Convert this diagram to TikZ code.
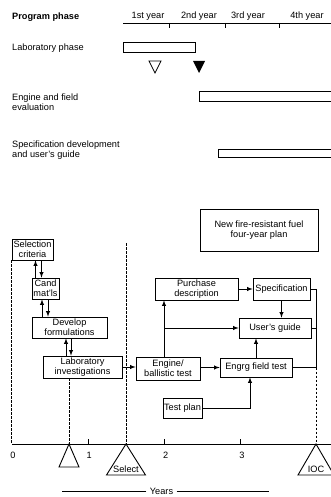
\documentclass[tikz,border=0pt]{standalone}
\usepackage{fontspec}
\setmainfont{Liberation Sans}
\usetikzlibrary{arrows,calc}

\tikzset{
    box/.style={draw, line width=0.7pt, align=center, inner sep=1pt},
    flow/.style={-latex, line width=0.9pt},
    guide/.style={line width=0.7pt, dash pattern=on 2.5pt off 1.5pt},
    bar/.style={draw, line width=0.7pt},
    lbl/.style={align=left, anchor=west, inner sep=0pt}
}

\begin{document}
\begin{tikzpicture}[x=1pt, y=-1pt, font=\fontsize{9.2}{10}\selectfont]
    \useasboundingbox (0,0) rectangle (331,497);

    % phase chart on top
    \node[lbl, font=\fontsize{9.2}{10}\selectfont\bfseries] (phase) at (12,17) {Program phase};
    \foreach \x/\yr in {148/1st, 199/2nd, 248/3rd, 307/4th}
        \node (yr\yr) at (\x,16) {\yr\ year};
    \draw[line width=0.7pt] (123,23) -- (331,23);
    \foreach \x in {169,225,279}
        \draw[line width=0.7pt] (\x,23) -- (\x,28);

    \node[lbl] (labphase) at (12,48) {Laboratory phase};
    \draw[bar] (123,42) rectangle (195,52);
    \draw[line width=0.7pt] (149,61) -- (161,61) -- (155,73) -- cycle;
    \fill (193,61) -- (205,61) -- (199,73) -- cycle;

    \node[lbl] (engphase) at (12,102) {Engine and field\\evaluation};
    \draw[bar] (335,91) -- (199,91) -- (199,101) -- (335,101);

    \node[lbl] (specphase) at (12,150) {Specification development\\and user's guide};
    \draw[bar] (335,149) -- (218,149) -- (218,157) -- (335,157);

    % work flow
    \node[box, minimum width=118pt, minimum height=42pt] (plan) at (259,230.5) {New fire-resistant fuel\\four-year plan};
    \node[box, minimum width=41pt, minimum height=21pt] (sel) at (32.5,249.5) {Selection\\criteria};
    \node[box, minimum width=27pt, minimum height=21pt] (cand) at (45.5,288.5) {Cand\\mat'ls};
    \node[box, minimum width=75pt, minimum height=21pt] (dev) at (69.5,327.5) {Develop\\formulations};
    \node[box, minimum width=79pt, minimum height=22pt] (lab) at (82.5,367) {Laboratory\\investigations};
    \node[box, minimum width=64pt, minimum height=23pt] (eng) at (168,368.5) {Engine/\\ballistic test};
    \node[box, minimum width=83pt, minimum height=22pt] (pur) at (196.5,289) {Purchase\\description};
    \node[box, minimum width=57pt, minimum height=22pt] (spec) at (281.5,289) {Specification};
    \node[box, minimum width=72pt, minimum height=20pt] (ug) at (275,328) {User's guide};
    \node[box, minimum width=72pt, minimum height=19pt] (fld) at (256,367.5) {Engrg field test};
    \node[box, minimum width=39pt, minimum height=20pt] (tp) at (182.5,408) {Test plan};

    \draw[flow] ([xshift=-10pt]cand.north) -- ([xshift=-10pt]cand.north |- sel.south);
    \draw[flow] ([xshift=-4pt]cand.north |- sel.south) -- ([xshift=-4pt]cand.north);
    \draw[flow] ([xshift=-3.5pt]cand.south |- dev.north) -- ([xshift=-3.5pt]cand.south);
    \draw[flow] ([xshift=2.5pt]cand.south) -- ([xshift=2.5pt]cand.south |- dev.north);
    \draw[flow] ([xshift=-3.5pt]dev.south |- lab.north) -- ([xshift=-3.5pt]dev.south);
    \draw[flow] ([xshift=1.5pt]dev.south) -- ([xshift=1.5pt]dev.south |- lab.north);
    \draw[flow] (lab.east) -- (lab.east -| eng.west);
    \draw[flow] (fld.west -| eng.east) -- (fld.west);

    \coordinate (split) at (164,328);
    \draw[flow] (eng.north -| split) -- (split |- pur.south);
    \draw[flow] (split) -- (ug.west);
    \draw[flow] (pur.east) -- (spec.west);
    \draw[flow] (spec.south) -- (spec.south |- ug.north);
    \draw[flow] (fld.north) -- (fld.north |- ug.south);
    \draw[flow] (tp.east) -| ([xshift=-6pt]fld.south);

    \coordinate (join) at (316,367.5);
    \draw[line width=0.9pt] (spec.east) -- (spec.east -| join) -- (join) -- (fld.east);
    \draw[line width=0.9pt] (ug.east) -- (ug.east -| join);

    % time axis
    \coordinate (o) at (12,444);
    \coordinate (labmark) at (69,444);
    \coordinate (selmark) at (126,444);
    \coordinate (seltop) at (126,243);
    \coordinate (iocmark) at (316,444);
    \draw[line width=0.9pt] (o) -- (331,444);
    \foreach \t in {1,2,3}
        \draw[line width=0.9pt] ({12+76.3*\t},444) -- ({12+76.3*\t},439);
    \foreach \t in {0,...,3}
        \node (t\t) at ({13+76.3*\t},455) {\t};

    \draw[guide] (sel.south west) -- (sel.south west |- o);
    \draw[guide] (labmark |- lab.south) -- (labmark);
    \draw[guide] (seltop) -- (selmark);
    \draw[guide] (join) -- (iocmark);

    % milestones
    \draw[line width=0.9pt] (labmark) -- ++(-10,23) -- ++(20,0) -- cycle;
    \draw[line width=0.9pt] (selmark) -- ++(-19.5,31) -- ++(39,0) -- cycle;
    \node (selname) at (126,469) {Select};
    \draw[line width=0.9pt] (iocmark) -- ++(-18,31) -- ++(36,0) -- cycle;
    \node (iocname) at (316,469) {IOC};

    \node (years) at (161.5,491) {Years};
    \draw[line width=0.7pt] (years.west) -- ++(-84,0);
    \draw[line width=0.9pt] (years.east) -- ++(92,0);
\end{tikzpicture}
\end{document}
